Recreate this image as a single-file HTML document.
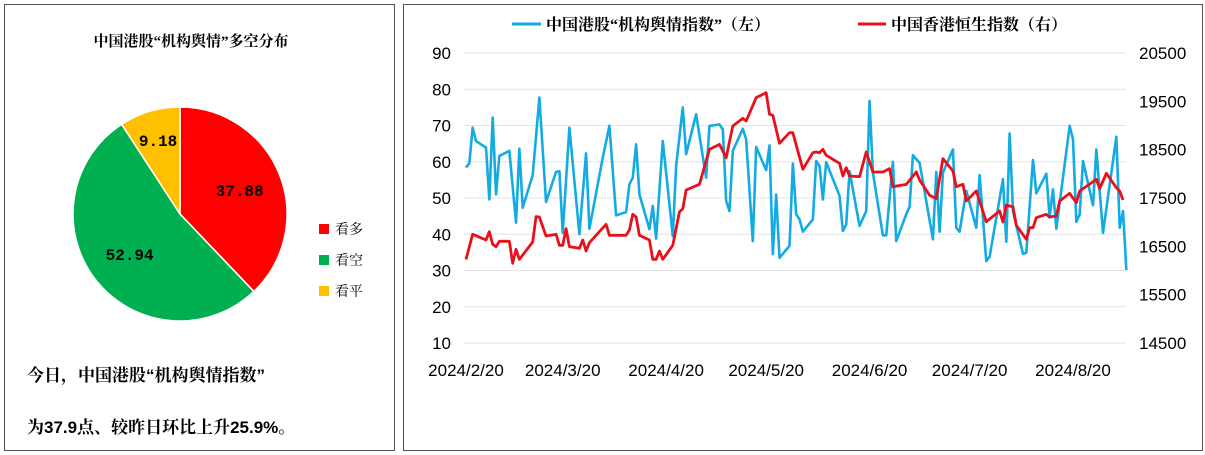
<!DOCTYPE html>
<html><head><meta charset="utf-8">
<style>
body{margin:0;width:1205px;height:455px;background:#fff;overflow:hidden;font-family:"Liberation Sans","Noto Sans CJK SC",sans-serif;}
.panel{position:absolute;border:1px solid #555;background:#fff;box-sizing:border-box;}
.bt{position:absolute;left:22px;font-family:"Liberation Sans","Noto Serif CJK SC",serif;font-weight:bold;font-size:17px;color:#000;white-space:nowrap;}
</style></head><body>
<div class="panel" style="left:4px;top:4px;width:391px;height:447px;">
<svg width="391" height="447" style="position:absolute;left:0;top:0">
<text x="186" y="41" text-anchor="middle" font-family="Liberation Serif,Noto Serif CJK SC,serif" font-weight="bold" font-size="15">中国港股“机构舆情”多空分布</text>
<g id="pie"></g>
<g id="plegend"></g>
</svg>
<div class="bt" style="top:356px">今日，中国港股“机构舆情指数”</div>
<div class="bt" style="top:408px">为37.9点、较昨日环比上升25.9%。</div>
</div>
<div class="panel" style="left:403px;top:4px;width:800px;height:447px;">
<svg id="lc" width="800" height="447" style="position:absolute;left:0;top:0"></svg>
</div>
<script>
const pieLabels=["看多","看空","看平"];
const pieValues=[37.88,52.94,9.18];
const pieColors=["#ff0000","#00b050","#ffc000"];

const blueDays=[0,1,2,3,6,7,8,9,10,13,15,16,17,20,22,24,27,28,29,31,34,36,37,41,43,45,48,49,50,51,52,55,56,57,59,62,63,65,66,69,72,73,76,77,78,79,80,83,84,86,87,90,91,92,93,94,97,98,99,100,101,104,105,106,107,108,112,113,114,115,118,120,121,122,125,126,128,129,132,133,134,136,140,141,142,143,146,147,148,150,153,154,156,157,161,162,163,164,167,168,170,171,174,175,176,177,181,182,183,184,185,188,189,191,195,196,197,198];
const blueValues=[58.4,59.6,69.4,65.7,63.9,49.6,72.2,51,61.6,63,43.2,63.6,47.3,56.3,77.7,48.9,57.2,57.4,40.4,69.4,40,62.3,41.5,61.1,69.9,45.2,46.1,53.8,55.6,64.8,51,41.4,47.8,38.8,65.7,39.5,58.8,75,62.1,73.1,55.6,69.9,70.3,68.9,49.2,46.4,63,69.1,66.2,38.1,64.1,57.7,64.5,34.5,51,33.5,36.8,59.5,45.5,44.1,40.7,44.1,60.2,58.8,49.6,59.9,50.6,40.9,42.7,57.4,42.3,46.4,76.8,57,39.7,39.7,60,38.1,45.5,47.6,61.8,59.7,38.6,57.2,40.7,57,63.4,41.8,40.7,52,41.8,56.3,32.6,33.8,55.2,37.9,67.8,46.4,34.6,34.9,60.5,51.3,56.7,44.6,52.4,41.5,69.9,66.2,43.4,45.5,60.2,48,63.4,40.4,66.9,41.8,46.4,30.1];
const redDays=[0,2,6,7,8,9,10,13,14,15,16,20,21,22,24,27,28,29,30,31,34,35,36,37,42,43,48,49,50,51,52,55,56,57,58,59,62,64,65,66,70,73,76,78,80,83,84,87,90,91,92,94,97,98,101,104,105,106,107,108,112,113,114,115,118,120,122,125,127,128,132,135,136,139,141,143,146,147,149,150,153,156,160,161,162,164,165,168,169,170,171,174,175,177,178,181,183,184,189,190,192,195,196,197];
const redValues=[16231,16749,16631,16803,16542,16493,16604,16604,16149,16438,16231,16590,17113,17106,16714,16749,16521,16521,16865,16493,16459,16631,16403,16576,16955,16728,16728,16838,17162,17107,16728,16631,16231,16231,16403,16231,16521,17210,17279,17665,17783,18507,18610,18334,18990,19149,19093,19576,19679,19232,19211,18632,18851,18851,18094,18437,18452,18437,18507,18383,18218,17955,18128,17955,17941,18452,18038,18038,18107,17734,17783,18038,17872,17556,17486,18314,18059,17734,17783,17438,17645,17010,17231,17003,17349,17320,16935,16645,16886,16886,17092,17162,17107,17128,17438,17597,17403,17645,17886,17693,18011,17713,17645,17458];
const leftTicks=[90,80,70,60,50,40,30,20,10];
const rightTicks=[20500,19500,18500,17500,16500,15500,14500];
const xTickLabels=["2024/2/20","2024/3/20","2024/4/20","2024/5/20","2024/6/20","2024/7/20","2024/8/20"];
const xTickDays=[0,29,60,90,121,151,182];

const NS="http://www.w3.org/2000/svg";
function mk(parent,tag,attrs,text){const e=document.createElementNS(NS,tag);for(const k in attrs)e.setAttribute(k,attrs[k]);if(text!==undefined)e.textContent=text;parent.appendChild(e);return e;}

// pie
(function(){
const g=document.getElementById('pie');const cx=175,cy=209,r=107;
const tot=pieValues.reduce((a,b)=>a+b,0);let a0=-Math.PI/2;
const lblPos=[[235,187],[118,253],[145,143]];
pieValues.forEach((v,i)=>{
 const a1=a0+v/tot*2*Math.PI;
 const x0=cx+r*Math.cos(a0),y0=cy+r*Math.sin(a0),x1=cx+r*Math.cos(a1),y1=cy+r*Math.sin(a1);
 const p=mk(g,'path',{d:`M${cx},${cy}L${x0},${y0}A${r},${r} 0 ${a1-a0>Math.PI?1:0} 1 ${x1},${y1}Z`,fill:pieColors[i],stroke:'#fff','stroke-width':1.5});
 
 
 const am=(a0+a1)/2;const rr=i==2?0.72:0.6;
 const t=mk(g,'text',{x:cx+rr*r*Math.cos(am),y:cy+rr*r*Math.sin(am)+6,'text-anchor':'middle','font-size':16,'font-weight':'bold',fill:'#000','font-family':'Liberation Mono,monospace'},v.toFixed(2));
 
 
 a0=a1;
});
const lg=document.getElementById('plegend');
pieLabels.forEach((l,i)=>{
 const y=225+i*31;
 const s=mk(lg,'rect',{x:314,y:y-6,width:10,height:10,fill:pieColors[i]});
 
 
 const t=mk(lg,'text',{x:330,y:y+4,'font-size':14,'font-family':'Liberation Serif,Noto Serif CJK SC,serif'},l);
 
 
});
})();

// line chart (coords relative to panel at 403,4)
(function(){
const svg=document.getElementById('lc');
const X0=465-403,PX=(1072-465)/182;
const yTop=52-4,yBot=342-4;
const xs=d=>X0+d*PX;
const yl=v=>yBot-(v-10)/80*(yBot-yTop);
const yr=v=>yBot-(v-14500)/6000*(yBot-yTop);
leftTicks.forEach(v=>{
 const l=mk(svg,'line',{x1:60,x2:722,y1:yl(v),y2:yl(v),stroke:'#e3e3e3','stroke-width':1});
 
 
 const t=mk(svg,'text',{x:47,y:yl(v)+6,'text-anchor':'end','font-size':17,'font-family':'Liberation Sans,sans-serif'},v);
 
 
});
rightTicks.forEach(v=>{
 const t=mk(svg,'text',{x:735,y:yr(v)+6,'font-size':17,'font-family':'Liberation Sans,sans-serif'},v);
 
 
});
xTickLabels.forEach((s,i)=>{
 const t=mk(svg,'text',{x:xs(xTickDays[i]),y:371,'text-anchor':'middle','font-size':17,'font-family':'Liberation Sans,sans-serif'},s);
 
 
});
const bp=mk(svg,'polyline',{points:blueDays.map((d,i)=>xs(d)+','+yl(blueValues[i])).join(' '),fill:'none',stroke:'#14abe3','stroke-width':2.6,'stroke-linejoin':'round'});


const rp=mk(svg,'polyline',{points:redDays.map((d,i)=>xs(d)+','+yr(redValues[i])).join(' '),fill:'none',stroke:'#e8101a','stroke-width':2.8,'stroke-linejoin':'round'});


// legend
const l1=mk(svg,'line',{x1:108,x2:137,y1:19,y2:19,stroke:'#14abe3','stroke-width':3});


const t1=mk(svg,'text',{x:142,y:25,'font-size':16,'font-family':'Liberation Serif,Noto Serif CJK SC,serif','font-weight':'bold'},'中国港股“机构舆情指数”（左）');


const l2=mk(svg,'line',{x1:454,x2:482,y1:19,y2:19,stroke:'#e8101a','stroke-width':3});


const t2=mk(svg,'text',{x:487,y:25,'font-size':16,'font-family':'Liberation Serif,Noto Serif CJK SC,serif','font-weight':'bold'},'中国香港恒生指数（右）');


})();
</script>
</body></html>
